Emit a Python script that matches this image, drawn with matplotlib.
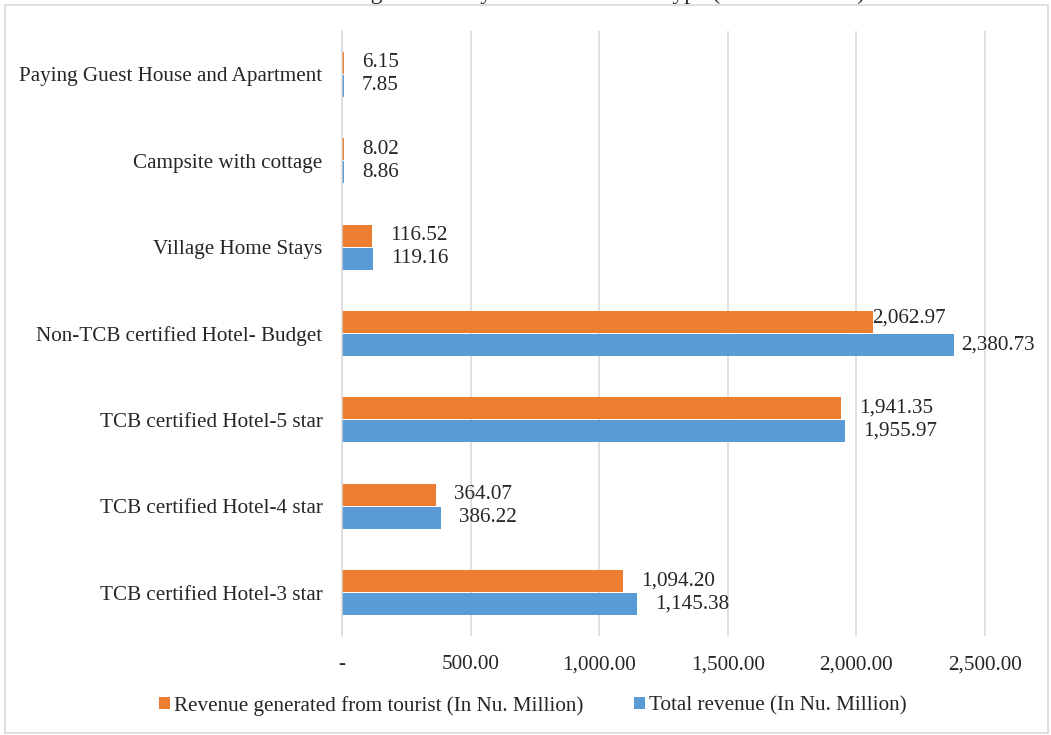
import matplotlib.pyplot as plt
import numpy as np
from matplotlib.patches import Rectangle

categories = [
    "TCB certified Hotel-3 star",
    "TCB certified Hotel-4 star",
    "TCB certified Hotel-5 star",
    "Non-TCB certified Hotel- Budget",
    "Village Home Stays",
    "Campsite with cottage",
    "Paying Guest House and Apartment",
]
tourist_revenue = [1094.20, 364.07, 1941.35, 2062.97, 116.52, 8.02, 6.15]
total_revenue = [1145.38, 386.22, 1955.97, 2380.73, 119.16, 8.86, 7.85]
x_ticks = [0, 500, 1000, 1500, 2000, 2500]
x_tick_labels = ["-", "500.00", "1,000.00", "1,500.00", "2,000.00", "2,500.00"]

ORANGE = "#ED7D31"
BLUE = "#5B9BD5"
GRID = "#D9D9D9"
TEXT = "#262626"

plt.rcParams["font.family"] = ["Liberation Serif", "DejaVu Serif"]
plt.rcParams["font.size"] = 15.2

fig = plt.figure(figsize=(10.51, 7.35), dpi=100)
fig.patches.append(Rectangle((5 / 1051, 2 / 735), 1043 / 1051, 728 / 735,
                             transform=fig.transFigure, fill=False,
                             edgecolor=GRID, linewidth=1.2))

ax = fig.add_axes([342 / 1051, 99 / 735, 698 / 1051, 605 / 735])

y = np.arange(len(categories))
h = 0.255
bars_o = ax.barh(y + h / 2 + 0.006, tourist_revenue, height=h, color=ORANGE,
                 linewidth=0, label="Revenue generated from tourist (In Nu. Million)")
bars_b = ax.barh(y - h / 2 - 0.006, total_revenue, height=h, color=BLUE,
                 linewidth=0, label="Total revenue (In Nu. Million)")

# label offsets in points (Excel moved the budget-hotel labels closer)
off_o = [13, 13, 13, 0, 13, 13, 13]
off_b = [13, 13, 13, 5, 13, 13, 13]
dy_o = [0, 0, 0, 2.5, 0, 0, 0]
for bars, vals, offs, dys in ((bars_o, tourist_revenue, off_o, dy_o), (bars_b, total_revenue, off_b, [0] * 7)):
    for b, v, o, d in zip(bars, vals, offs, dys):
        ax.annotate(f"{v:,.2f}", (v, b.get_y() + b.get_height() / 2),
                    xytext=(o, d), textcoords="offset points",
                    ha="left", va="center", color=TEXT)

ax.set_xlim(0, 2714)
ax.set_ylim(-0.5, len(categories) - 0.5)
ax.set_xticks(x_ticks)
ax.set_xticklabels(x_tick_labels, color=TEXT)
ax.set_yticks(y)
ax.set_yticklabels(categories, color=TEXT)
ax.tick_params(axis="both", length=0)
ax.tick_params(axis="x", pad=14)
ax.tick_params(axis="y", pad=14)
ax.grid(axis="x", color=GRID, linewidth=1.1)
ax.set_axisbelow(True)
for s in ("top", "right", "bottom"):
    ax.spines[s].set_visible(False)
ax.spines["left"].set_color(GRID)
ax.spines["left"].set_linewidth(1.1)

fig.legend(handles=[bars_o, bars_b], loc="center", bbox_to_anchor=(533 / 1051, 29 / 735),
           ncol=2, frameon=False, handlelength=0.5, handleheight=0.5,
           handletextpad=0.2, columnspacing=2.4, labelcolor=TEXT)

# title sits mostly above the canvas in the reference, only descenders show
fig.text(865 / 1051, 1.0 + 1.5 / 735, "Revenue generated by Accommodation Type (In Nu. Million)",
         ha="right", va="baseline", fontsize=17, color=TEXT)

fig.savefig("out.png", dpi=100)
